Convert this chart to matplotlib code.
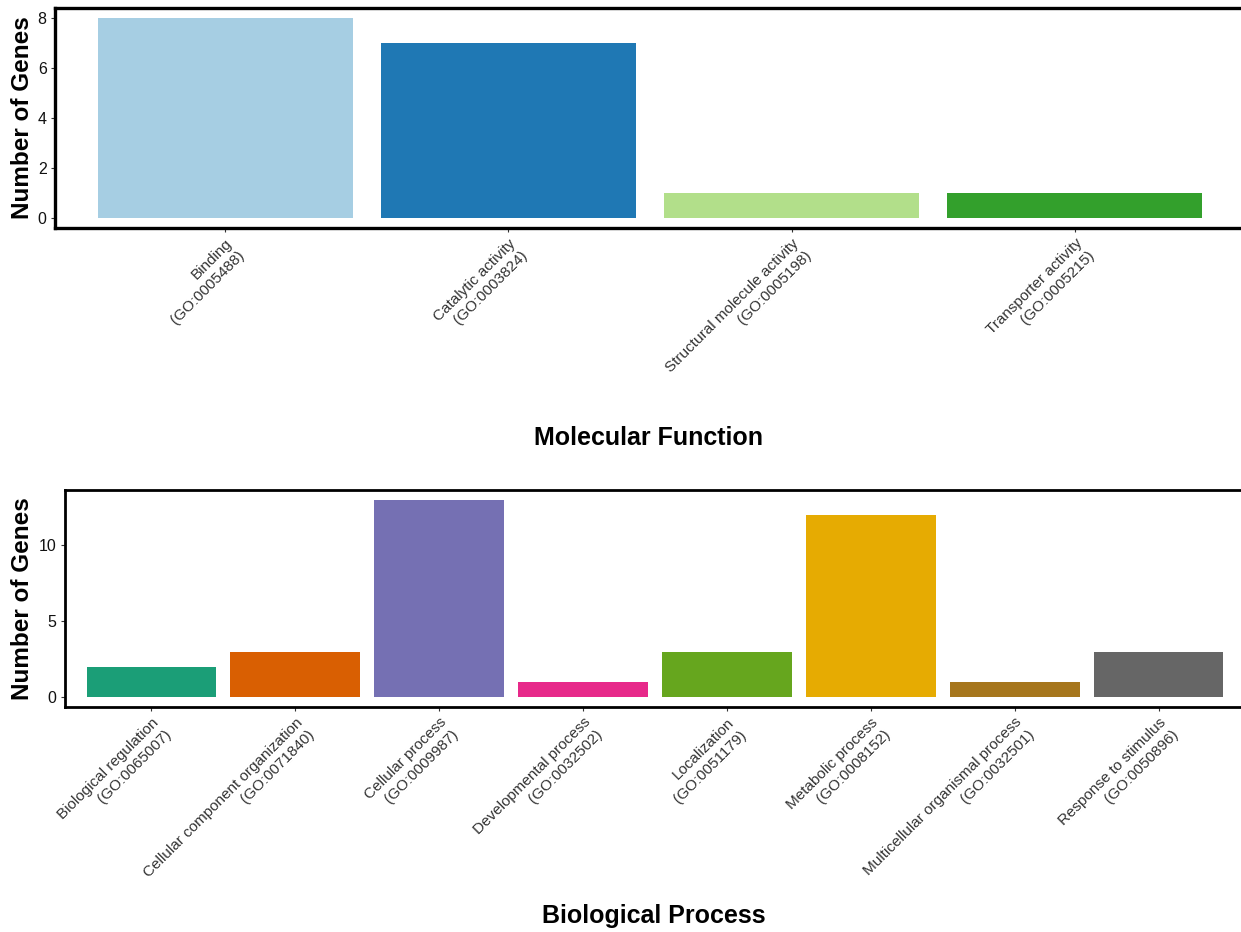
import matplotlib
matplotlib.use("Agg")
import matplotlib.pyplot as plt
import numpy as np

plt.rcParams['font.family'] = ['Liberation Sans', 'DejaVu Sans']

# GO categories and gene counts
mf_terms = ['Binding\n(GO:0005488)', 'Catalytic activity\n(GO:0003824)',
            'Structural molecule activity\n(GO:0005198)', 'Transporter activity\n(GO:0005215)']
mf_counts = [8, 7, 1, 1]
mf_colors = ['#A6CEE3', '#1F78B4', '#B2DF8A', '#33A02C']

bp_terms = ['Biological regulation\n(GO:0065007)', 'Cellular component organization\n(GO:0071840)',
            'Cellular process\n(GO:0009987)', 'Developmental process\n(GO:0032502)',
            'Localization\n(GO:0051179)', 'Metabolic process\n(GO:0008152)',
            'Multicellular organismal process\n(GO:0032501)', 'Response to stimulus\n(GO:0050896)']
bp_counts = [2, 3, 13, 1, 3, 12, 1, 3]
bp_colors = ['#1B9E77', '#D95F02', '#7570B3', '#E7298A',
             '#66A61E', '#E6AB02', '#A6761D', '#666666']
mf_yticks = [0, 2, 4, 6, 8]
bp_yticks = [0, 5, 10]


def draw_panel(ax, terms, counts, colors, yticks, lw):
    x = np.arange(len(terms))
    ax.bar(x, counts, width=0.9, color=colors)
    ax.set_xlim(-0.6, len(terms) - 0.4)
    top = max(counts)
    ax.set_ylim(-0.05 * top, top * 1.05)
    ax.set_xticks(x)
    ax.set_xticklabels(terms, rotation=45, ha='right', va='top',
                       rotation_mode='anchor', fontsize=11, color='#111111',
                       linespacing=1.3)
    ax.set_yticks(yticks)
    ax.tick_params(axis='y', labelsize=11.5, colors='#333333', length=3, width=0.8,
                   labelcolor='#111111', pad=3)
    ax.tick_params(axis='x', colors='#333333', length=3, width=0.8, pad=3)
    for side in ['left', 'top', 'bottom']:
        ax.spines[side].set_linewidth(lw)
        ax.spines[side].set_color('black')
    ax.spines['right'].set_visible(False)


fig = plt.figure(figsize=(12.41, 9.32), dpi=100)

ax1 = fig.add_axes([55 / 1241, 1 - 228 / 932, 1190 / 1241, 220 / 932])
draw_panel(ax1, mf_terms, mf_counts, mf_colors, mf_yticks, 2.4)

ax2 = fig.add_axes([65 / 1241, 1 - 707 / 932, 1180 / 1241, 217 / 932])
draw_panel(ax2, bp_terms, bp_counts, bp_colors, bp_yticks, 2.0)

# axis titles
fig.text(23 / 1241, 1 - 118 / 932, 'Number of Genes', rotation=90, ha='center',
         va='center', fontsize=17.5, fontweight='bold')
fig.text(23 / 1241, 1 - 599 / 932, 'Number of Genes', rotation=90, ha='center',
         va='center', fontsize=17.5, fontweight='bold')
fig.text(649 / 1241, 1 - 438 / 932, 'Molecular Function', ha='center', va='center',
         fontsize=18, fontweight='bold')
fig.text(654 / 1241, 1 - 916 / 932, 'Biological Process', ha='center', va='center',
         fontsize=18, fontweight='bold')

fig.savefig('out.png', dpi=100)
